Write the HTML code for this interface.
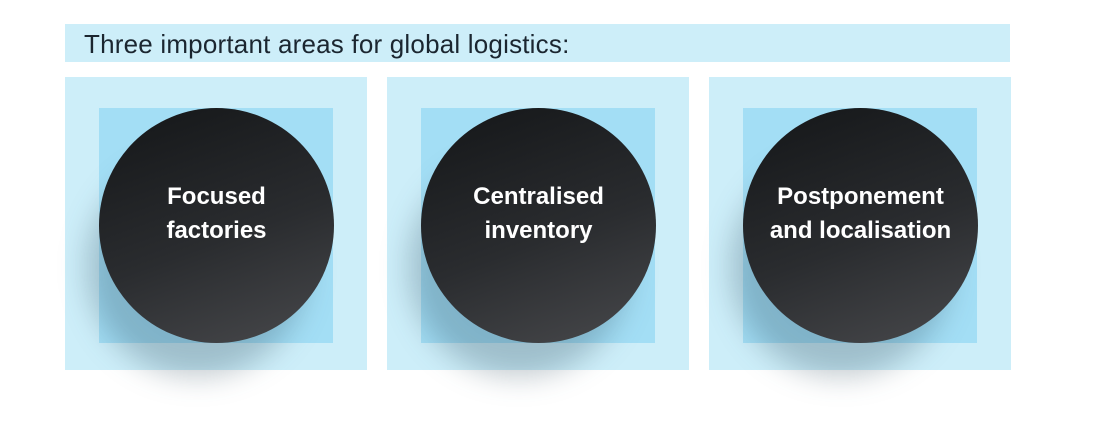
<!DOCTYPE html>
<html><head><style>
body{margin:0;width:1100px;height:434px;background:#fff;position:relative;overflow:hidden;font-family:"Liberation Sans",sans-serif}
.bar{position:absolute;left:65px;top:24px;width:945px;height:38px;background:#cdeef9}
.bar span{position:absolute;left:19px;top:5px;font-size:26px;letter-spacing:0.2px;color:#1b2630}
.outer{position:absolute;top:77px;width:302px;height:293px;background:#cdeef9}
.inner{position:absolute;left:34px;top:31px;width:234px;height:235px;background:#a3def5}
.sh{position:absolute;width:220px;height:220px;border-radius:50%;background:rgba(40,70,85,.28);filter:blur(14px)}
.circ{position:absolute;left:34px;top:31px;width:235px;height:235px;border-radius:50%;background:linear-gradient(160deg,#141618 0%,#2a2c2f 55%,#48494c 100%);color:#fff;font-weight:bold;font-size:24px;line-height:34px;text-align:center;display:flex;align-items:center;justify-content:center;box-sizing:border-box;padding-bottom:24px}
</style></head><body>
<div class="bar"><span>Three important areas for global logistics:</span></div>
<div class="outer" style="left:65px"><div class="inner"></div><div class="sh" style="left:22px;top:80px"></div><div class="circ">Focused<br>factories</div></div>
<div class="outer" style="left:387px"><div class="inner"></div><div class="sh" style="left:22px;top:80px"></div><div class="circ">Centralised<br>inventory</div></div>
<div class="outer" style="left:709px"><div class="inner"></div><div class="sh" style="left:22px;top:80px"></div><div class="circ">Postponement<br>and localisation</div></div>
</body></html>
